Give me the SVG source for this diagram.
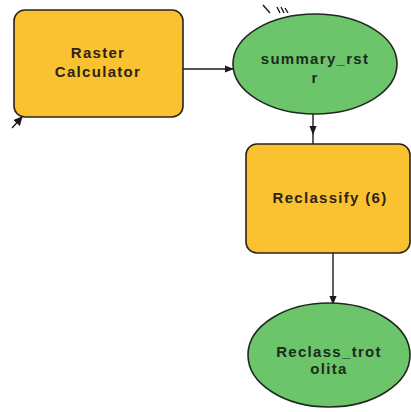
<svg xmlns="http://www.w3.org/2000/svg" width="411" height="412" viewBox="0 0 411 412">
  <defs>
    <marker id="arrow" viewBox="0 0 10 10" refX="9" refY="5" markerWidth="9" markerHeight="9" orient="auto" markerUnits="userSpaceOnUse">
      <path d="M0,1 L10,5 L0,9 z" fill="#1a1a1a"/>
    </marker>
    <marker id="arrowSmall" viewBox="0 0 10 10" refX="9" refY="5" markerWidth="9" markerHeight="9" orient="auto" markerUnits="userSpaceOnUse">
      <path d="M0,0 L10,5 L0,10 z" fill="#1a1a1a"/>
    </marker>
  </defs>
  <style>
    .tool { fill: #FAC231; stroke: #2b2418; stroke-width: 1.6; }
    .data { fill: #6CC56A; stroke: #1f2a1f; stroke-width: 1.6; }
    .label { font-family: "Liberation Sans", Arial, sans-serif; font-weight: bold; font-size: 15px; letter-spacing: 1.3px; fill: #2a2418; text-anchor: middle; }
    .dlabel { fill: #1c2a1c; }
    .conn { stroke: #1a1a1a; stroke-width: 1.4; fill: none; }
  </style>
  <rect width="411" height="412" fill="#ffffff"/>

  <!-- connectors -->
  <g id="connectors">
    <path class="conn" d="M183,69 L233,69" marker-end="url(#arrow)"/>
    <path class="conn" d="M313,114 L313,134" marker-end="url(#arrow)"/>
    <path class="conn" d="M313,134 L313,144"/>
    <path class="conn" d="M333,253 L333,304" marker-end="url(#arrow)"/>
    <!-- pin at the tool corner -->
    <path class="conn" d="M12,128 L22,117" marker-end="url(#arrowSmall)"/>
    <!-- tick marks above the ellipse -->
    <path class="conn" stroke-width="1" d="M263,5 L270,13 M277,7 L280,13 M281,7 L284,13 M285,8 L288,13"/>
  </g>

  <g id="raster-calculator">
    <rect class="tool" x="14" y="10" width="169" height="107" rx="11" ry="11"/>
    <text class="label" x="98" y="58">Raster</text>
    <text class="label" x="98" y="77">Calculator</text>
  </g>

  <g id="summary-rstr">
    <ellipse class="data" cx="315" cy="64" rx="82" ry="50"/>
    <text class="label dlabel" x="315" y="64">summary_rst</text>
    <text class="label dlabel" x="315" y="83">r</text>
  </g>

  <g id="reclassify">
    <rect class="tool" x="246" y="144" width="164" height="109" rx="11" ry="11"/>
    <text class="label" x="330" y="203">Reclassify (6)</text>
  </g>

  <g id="reclass-trotolita">
    <ellipse class="data" cx="329" cy="355" rx="81" ry="52"/>
    <text class="label dlabel" x="329" y="357">Reclass_trot</text>
    <text class="label dlabel" x="329" y="374">olita</text>
  </g>
</svg>
